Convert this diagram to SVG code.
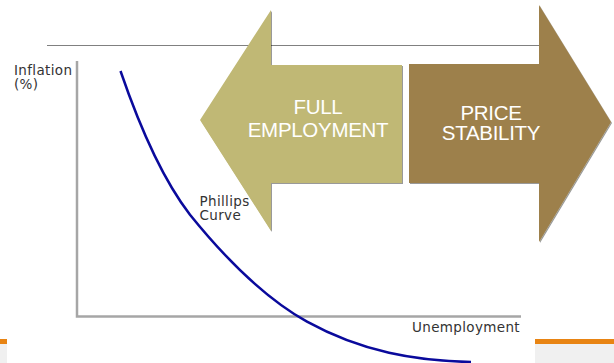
<svg xmlns="http://www.w3.org/2000/svg" width="614" height="363" viewBox="0 0 614 363">
<defs>
<filter id="sh" x="-5%" y="-5%" width="110%" height="110%"><feDropShadow dx="1" dy="1" stdDeviation="0.7" flood-color="#000" flood-opacity="0.4"/></filter>
</defs>
<style>
.lab{font-family:"DejaVu Sans",Verdana,sans-serif;font-size:13.500px;letter-spacing:.35px;fill:#333}
.big{font-family:"Liberation Sans",Arial,sans-serif;font-size:20.500px;fill:#fff;text-anchor:middle;letter-spacing:-.3px}
.axis{fill:none;stroke:#a6a6a6;stroke-width:2.500}
</style>
<rect width="614" height="363" fill="#fff"/>
<g id="footer">
<rect x="0" y="339" width="7" height="24" fill="#f0f0f0"/>
<rect x="0" y="339" width="7" height="5" fill="#e88413"/>
<rect x="535" y="339" width="79" height="24" fill="#f0f0f0"/>
<rect x="535" y="339" width="79" height="5" fill="#e88413"/>
</g>
<line x1="47" y1="45.500" x2="540" y2="45.500" stroke="#808080" stroke-width="1"/>
<g id="axes">
<path class="axis" d="M77 61V316.500H521"/>
</g>
<g id="connectors">
<path id="phillips-curve" d="M120.500 71C143.500 138 167 185 190 214.700C229 263 268 300 307 321.700C362 352 416 361 471 362" fill="none" stroke="#0a0a9c" stroke-width="2.500"/>
</g>
<g id="full-employment">
<path d="M271 10V65H402V183H271V231L200 120Z" fill="#c0b874" filter="url(#sh)"/>
<text class="big" x="318" y="114">FULL</text>
<text class="big" x="318" y="137">EMPLOYMENT</text>
</g>
<g id="price-stability">
<path d="M409 64H539V5L611 122L539 242V183H409Z" fill="#9d804c" filter="url(#sh)"/>
<text class="big" x="491" y="120">PRICE</text>
<text class="big" x="491" y="140">STABILITY</text>
</g>
<g id="labels">
<text class="lab" x="14" y="75">Inflation</text>
<text class="lab" x="14" y="89">(%)</text>
<text class="lab" x="199.500" y="206">Phillips</text>
<text class="lab" x="199.500" y="220">Curve</text>
<text class="lab" x="412" y="332">Unemployment</text>
</g>
</svg>
